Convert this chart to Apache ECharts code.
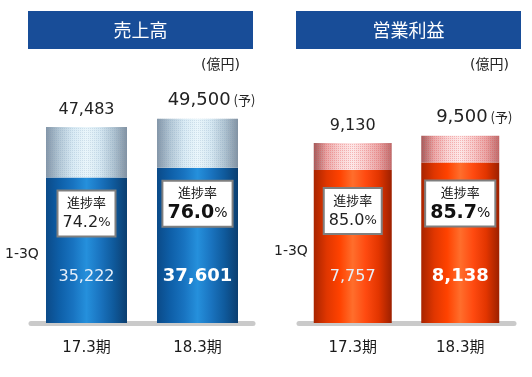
<!DOCTYPE html>
<html>
<head>
<meta charset="utf-8">
<script src="https://cdn.jsdelivr.net/npm/echarts@6/dist/echarts.min.js"></script>
<style>
  html, body { margin: 0; padding: 0; background: #fff; }
  #chart { width: 532px; height: 377px; }
</style>
</head>
<body>
<div id="chart"></div>
<script>
// データ
const categories = ['17.3期', '18.3期'];
const salesTotal = [47483, 49500];
const sales13Q = [35222, 37601];
const salesRate = ['74.2', '76.0'];
const profitTotal = [9130, 9500];
const profit13Q = [7757, 8138];
const profitRate = ['85.0', '85.7'];
const isForecast = [false, true];

const FONT = "'DejaVu Sans', 'Noto Sans CJK JP', sans-serif";
const JP = "'Noto Sans CJK JP', sans-serif";

const fmt = v => v.toLocaleString('en-US');

// 円柱っぽいグラデーション
function cyl(stops) {
  return new echarts.graphic.LinearGradient(0, 0, 1, 0,
    stops.map((c, i) => ({ offset: i / (stops.length - 1), color: c })));
}
const blueBody = cyl(['#0b4a88', '#0e5fa8', '#1873c0', '#2590dc', '#1a74c0', '#0f5a9c', '#0b3e70']);
const blueTop = cyl(['#8496a8', '#b4c8d6', '#d8eaf4', '#eaf6fb', '#d6e8f2', '#b0c4d2', '#8292a2']);
const redBody = cyl(['#a82400', '#e03600', '#ff4200', '#ff6e2c', '#ff4a10', '#e23500', '#9c2000']);
const redTop = cyl(['#a05c5c', '#eaa8a8', '#f9d4d4', '#fde8e8', '#f7caca', '#e9a4a4', '#bc6e6e']);

function buildSeries(gi, totals, q13, rates, body, top, bw, boxDist, decalColor) {
  const remain = totals.map((t, i) => t - q13[i]);
  return [
    {
      type: 'bar', xAxisIndex: gi, yAxisIndex: gi, stack: 's' + gi,
      barWidth: bw, barGap: '-100%',
      itemStyle: { color: body },
      label: {
        show: true, position: 'insideBottom', distance: 38,
        formatter: p => (p.dataIndex === 1 ? '{b|' : '{n|') + fmt(q13[p.dataIndex]) + '}',
        rich: {
          n: { fontFamily: FONT, fontSize: 16, color: '#e6f0fa' },
          b: { fontFamily: FONT, fontSize: 18, fontWeight: 'bold', color: '#ffffff' }
        }
      },
      data: q13
    },
    {
      type: 'bar', xAxisIndex: gi, yAxisIndex: gi, stack: 's' + gi,
      barWidth: bw, barGap: '-100%',
      itemStyle: {
        color: top,
        decal: { symbol: 'rect', symbolSize: 1, dashArrayX: [1, 1], dashArrayY: [1, 1], color: decalColor }
      },
      label: {
        show: true, position: 'bottom', distance: boxDist,
        backgroundColor: '#ffffff', borderColor: '#7f7f7f', borderWidth: 2,
        padding: [1, 4, 1, 4],
        formatter: p => {
          const i = p.dataIndex;
          return '{t|進捗率}\n' + (i === 1 ? '{vb|' + rates[i] + '}{pb|%}' : '{v|' + rates[i] + '}{p|%}');
        },
        rich: {
          t: { fontFamily: JP, fontSize: 13, color: '#222', lineHeight: 19, align: 'center' },
          v: { fontFamily: FONT, fontSize: 16, color: '#222', lineHeight: 23, align: 'center' },
          p: { fontFamily: FONT, fontSize: 13, color: '#222', lineHeight: 23, align: 'center' },
          vb: { fontFamily: FONT, fontSize: 19, fontWeight: 'bold', color: '#111', lineHeight: 23, align: 'center' },
          pb: { fontFamily: FONT, fontSize: 14, color: '#111', lineHeight: 23, align: 'center' }
        }
      },
      data: remain
    },
    {
      // 通期の数値ラベル用（透明）
      type: 'bar', xAxisIndex: gi, yAxisIndex: gi,
      barWidth: bw, barGap: '-100%',
      itemStyle: { color: 'rgba(0,0,0,0)' },
      silent: true,
      label: {
        show: true, position: 'top', distance: 9,
        formatter: p => isForecast[p.dataIndex]
          ? '{f|' + fmt(totals[p.dataIndex]) + '}{y| (予)}'
          : '{n|' + fmt(totals[p.dataIndex]) + '}',
        rich: {
          n: { fontFamily: FONT, fontSize: 16, color: '#222' },
          f: { fontFamily: FONT, fontSize: 18, color: '#222' },
          y: { fontFamily: JP, fontSize: 13, color: '#222', padding: [0, 0, 2, 0] }
        }
      },
      data: totals.map((t, i) => isForecast[i] ? { value: t, label: { offset: [14, 0] } } : t)
    }
  ];
}

const chart = echarts.init(document.getElementById('chart'), null, { renderer: 'canvas' });

const axisCommon = {
  type: 'category',
  data: categories,
  axisTick: { show: false },
  axisLine: { lineStyle: { color: '#cacaca', width: 5 } },
  axisLabel: { fontFamily: FONT, fontSize: 15, color: '#1a1a1a', margin: 18 }
};

const banner = (x, w, text) => ({
  type: 'group', left: x, top: 11,
  children: [
    { type: 'rect', shape: { x: 0, y: 0, width: w, height: 38 }, style: { fill: '#184d98' } },
    { type: 'text', x: w / 2, y: 19, style: { text: text, fill: '#fff', font: "18px 'Noto Sans CJK JP'", textAlign: 'center', textVerticalAlign: 'middle' } }
  ]
});
const txt = (x, y, text, size) => ({
  type: 'text', left: x, top: y,
  style: { text: text, fill: '#222', font: size + "px 'DejaVu Sans', 'Noto Sans CJK JP'" }
});

const option = {
  animation: false,
  grid: [
    { left: 31, right: 279, top: 60, bottom: 54 },
    { left: 299, right: 18, top: 60, bottom: 54 }
  ],
  xAxis: [
    Object.assign({ gridIndex: 0 }, axisCommon),
    Object.assign({ gridIndex: 1 }, axisCommon)
  ],
  yAxis: [
    { gridIndex: 0, type: 'value', min: 0, max: 63700, show: false },
    { gridIndex: 1, type: 'value', min: 0, max: 13340, show: false }
  ],
  graphic: [
    banner(28, 225, '売上高'),
    banner(296, 225, '営業利益'),
    txt(201, 58, '(億円)', 14),
    txt(470, 58, '(億円)', 14),
    txt(5, 247, '1-3Q', 14),
    txt(274, 244, '1-3Q', 14)
  ],
  series: [].concat(
    buildSeries(0, salesTotal, sales13Q, salesRate, blueBody, blueTop, 81, 14, 'rgba(120,150,180,0.22)'),
    buildSeries(1, profitTotal, profit13Q, profitRate, redBody, redTop, 78, 19, 'rgba(230,70,70,0.3)')
  )
};

chart.setOption(option);
</script>
</body>
</html>
